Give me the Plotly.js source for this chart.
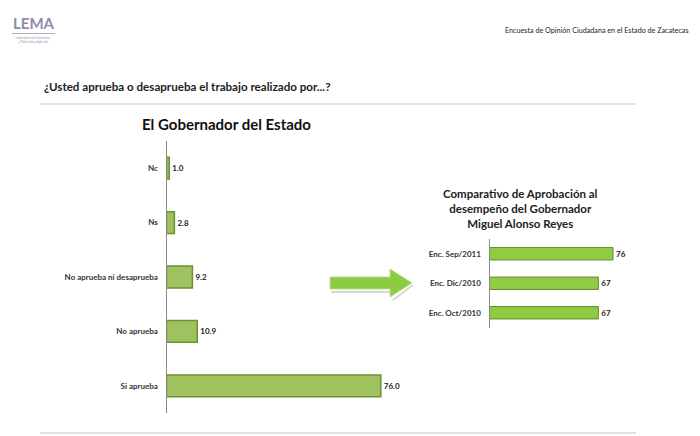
<!DOCTYPE html>
<html>
<head>
<meta charset="utf-8">
<script src="https://cdn.plot.ly/plotly-3.0.1.min.js"></script>
<style>html,body{margin:0;padding:0;background:#fff}#chart{width:700px;height:436px}</style>
</head>
<body>
<div id="chart"></div>
<script>
// Left chart: El Gobernador del Estado
const govCategories = ['Si aprueba', 'No aprueba', 'No aprueba ni desaprueba', 'Ns', 'Nc'];
const govValues = [76.0, 10.9, 9.2, 2.8, 1.0];

// Right chart: comparativo de aprobación
const compCategories = ['Enc. Oct/2010', 'Enc. Dic/2010', 'Enc. Sep/2011'];
const compValues = [67, 67, 76];

const FONT = 'Lato, "Open Sans", sans-serif';
const W = 700, H = 436;
const px = x => x / W;
const py = y => 1 - y / H;

const traces = [
  {
    type: 'bar', orientation: 'h',
    x: govValues, y: govCategories,
    xaxis: 'x', yaxis: 'y',
    width: 0.4,
    marker: {color: '#9fc25e', line: {color: '#6f8f35', width: 1.5}},
    text: govValues.map(v => v.toFixed(1)),
    textposition: 'outside', cliponaxis: false,
    textfont: {family: FONT, size: 8, color: '#222', weight: 'bold'},
    hoverinfo: 'skip'
  },
  {
    type: 'bar', orientation: 'h',
    x: compValues, y: compCategories,
    xaxis: 'x2', yaxis: 'y2',
    width: 0.42,
    marker: {color: '#8fcb45', line: {color: '#5f8f25', width: 1}},
    text: compValues.map(v => String(v)),
    textposition: 'outside', cliponaxis: false,
    textfont: {family: FONT, size: 8, color: '#222', weight: 'bold'},
    hoverinfo: 'skip'
  }
];

const layout = {
  width: W, height: H,
  margin: {l: 0, r: 0, t: 0, b: 0},
  paper_bgcolor: '#fff', plot_bgcolor: 'rgba(0,0,0,0)',
  showlegend: false,
  font: {family: FONT},
  bargap: 0.6,
  xaxis: {domain: [px(166.5), px(166.5 + 85 * 2.82)], range: [0, 85], visible: false, fixedrange: true},
  yaxis: {
    domain: [py(413), py(141)], range: [-0.5, 4.5],
    showline: true, linecolor: '#8a8a8a', linewidth: 1,
    showgrid: false, zeroline: false, ticks: '',
    ticklabelstandoff: 6,
    tickfont: {family: FONT, size: 8, color: '#333', weight: 'bold'},
    fixedrange: true
  },
  xaxis2: {domain: [px(489.5), px(489.5 + 100 * 1.625)], range: [0, 100], visible: false, fixedrange: true, anchor: 'y2'},
  yaxis2: {
    domain: [py(327.5), py(239)], range: [-0.5, 2.5], anchor: 'x2',
    showline: true, linecolor: '#8a8a8a', linewidth: 1,
    showgrid: false, zeroline: false, ticks: '',
    ticklabelstandoff: 6,
    tickfont: {family: FONT, size: 8, color: '#333', weight: 'bold'},
    fixedrange: true
  },
  shapes: [
    {type: 'line', xref: 'paper', yref: 'paper', x0: px(40), x1: px(636), y0: py(104), y1: py(104), line: {color: '#b7c7d6', width: 1.2}},
    {type: 'line', xref: 'paper', yref: 'paper', x0: px(40), x1: px(636), y0: py(433), y1: py(433), line: {color: '#b7c7d6', width: 1.2}},
    // logo underline
    {type: 'line', xref: 'paper', yref: 'paper', x0: px(12), x1: px(55), y0: py(33.5), y1: py(33.5), line: {color: '#b0b0c0', width: 1}},
    // arrow shadow
    {type: 'path', xref: 'paper', yref: 'paper',
     path: `M${px(331)},${py(292)} L${px(391)},${py(292)} M${px(393)},${py(300)} L${px(413)},${py(285)}`,
     line: {color: '#c8cfc0', width: 1.5}},
    // arrow
    {type: 'path', xref: 'paper', yref: 'paper',
     path: `M${px(330)},${py(277)} L${px(390)},${py(277)} L${px(390)},${py(269)} L${px(412)},${py(283)} L${px(390)},${py(297)} L${px(390)},${py(289)} L${px(330)},${py(289)} Z`,
     fillcolor: '#8ccc45', line: {color: '#b6e08a', width: 1}}
  ],
  annotations: [
    {xref: 'paper', yref: 'paper', x: px(12), y: py(33), xanchor: 'left', yanchor: 'bottom', showarrow: false,
     text: 'LEMA', font: {family: FONT, size: 15, color: '#8c8ca8', weight: 'bold'}, borderpad: 0},
    {xref: 'paper', yref: 'paper', x: px(33), y: py(34.5), xanchor: 'center', yanchor: 'top', showarrow: false,
     text: 'Laboratorio de Estadística<br>y Matemática Aplicada', font: {family: FONT, size: 3, color: '#9a9aaa'}, borderpad: 0},
    {xref: 'paper', yref: 'paper', x: px(691), y: py(30), xanchor: 'right', yanchor: 'middle', showarrow: false,
     text: 'Encuesta de Opinión Ciudadana en el Estado de Zacatecas', font: {family: FONT, size: 7.2, color: '#222'}},
    {xref: 'paper', yref: 'paper', x: px(42), y: py(87), xanchor: 'left', yanchor: 'middle', showarrow: false,
     text: '¿Usted aprueba o desaprueba el trabajo realizado por...?', font: {family: FONT, size: 11.6, color: '#222', weight: 'bold'}},
    {xref: 'paper', yref: 'paper', x: px(226), y: py(124), xanchor: 'center', yanchor: 'middle', showarrow: false,
     text: 'El Gobernador del Estado', font: {family: FONT, size: 15, color: '#111', weight: 'bold'}},
    {xref: 'paper', yref: 'paper', x: px(520), y: py(209), xanchor: 'center', yanchor: 'middle', showarrow: false,
     text: 'Comparativo de Aprobación al<br>desempeño del Gobernador<br>Miguel Alonso Reyes',
     font: {family: FONT, size: 11.5, color: '#222', weight: 'bold'}}
  ]
};

Plotly.newPlot('chart', traces, layout, {displayModeBar: false, staticPlot: true});
</script>
</body>
</html>
